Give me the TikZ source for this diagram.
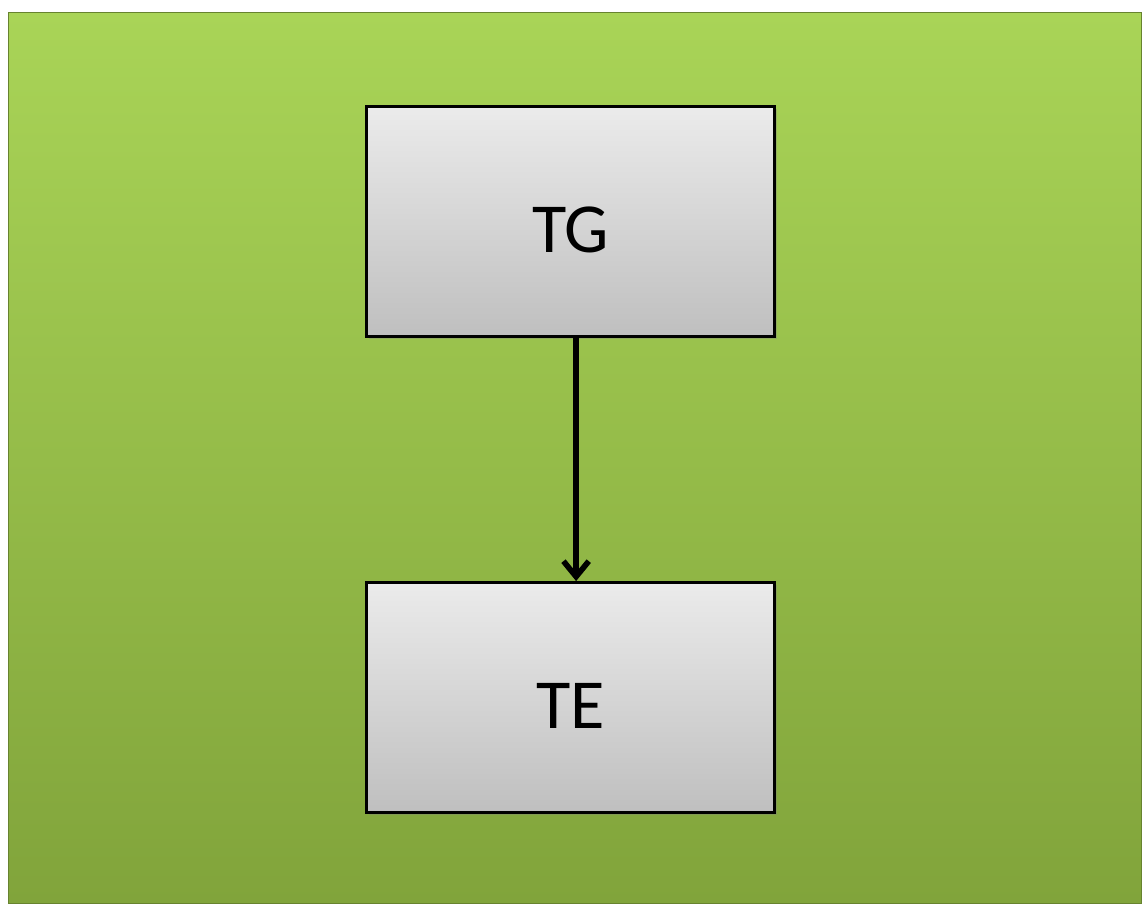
\documentclass[tikz,border=0pt]{standalone}
\usepackage{fontspec}
\setmainfont{Carlito}
\usetikzlibrary{arrows.meta,shadows}
\definecolor{bgtop}{HTML}{A9D457}
\definecolor{bgbot}{HTML}{81A43B}
\definecolor{boxtop}{HTML}{EBEBEB}
\definecolor{boxbot}{HTML}{BFBFBF}
\begin{document}
\begin{tikzpicture}[x=0.025cm,y=-0.025cm,
 panel/.style={top color=bgtop,bottom color=bgbot,draw=bgbot!80!black,line width=0.6pt},
 block/.style={draw=black,line width=2pt,top color=boxtop,bottom color=boxbot,
  minimum width=10.2cm,minimum height=5.75cm,inner sep=0pt,
  text height=1.55cm,text depth=0pt,
  drop shadow={shadow xshift=2pt,shadow yshift=-2pt,opacity=0.35},
  font=\fontsize{50}{56}\selectfont},
 link/.style={line width=4pt,-{Straight Barb[length=11pt,width=18pt,line width=4pt]}}]
 \useasboundingbox (0,0) rectangle (1142,903);
 \fill[white] (0,0) rectangle (1142,903);
 \draw[panel] (8,12) rectangle (1141,903);
 \node[block] (TG) at (570.5,221.5) {TG};
 \node[block] (TE) at (570.5,697.5) {TE};
 \draw[link] ([xshift=0.14cm]TG.south) -- ([xshift=0.14cm]TE.north);
\end{tikzpicture}
\end{document}
